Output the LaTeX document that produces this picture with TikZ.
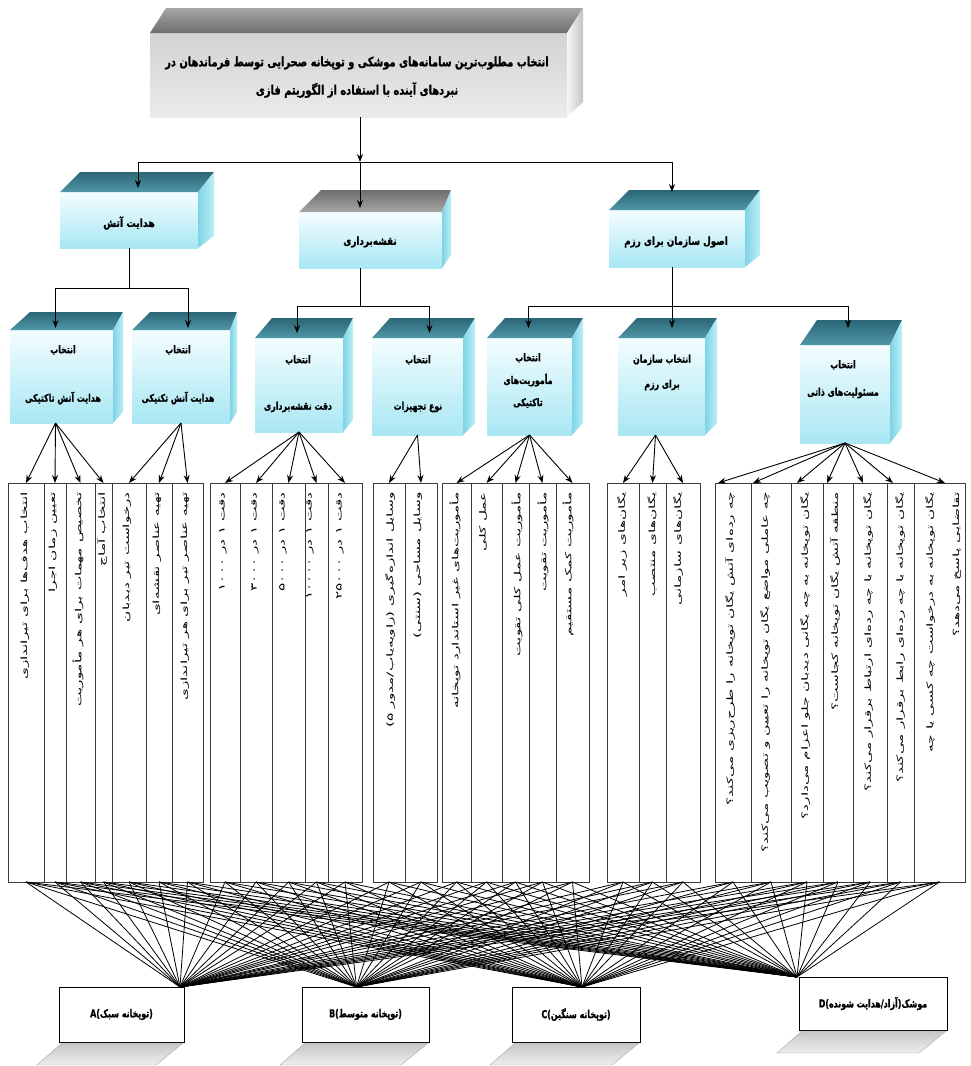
\documentclass[tikz,border=0pt]{standalone}
\usepackage{fontspec}
\usepackage{graphicx}
\TeXXeTstate=1
\newfontfamily\fa[Script=Arabic]{DejaVu Sans}
\newfontfamily\fah[Script=Arabic,FakeBold=1.2]{DejaVu Sans Bold}
\newfontfamily\lat{DejaVu Sans}
\newfontfamily\lath[FakeBold=1.2]{DejaVu Sans Bold}
\usetikzlibrary{arrows.meta,calc}
\definecolor{tealA}{HTML}{2B6676}
\definecolor{tealB}{HTML}{4F97A8}
\definecolor{cyF1}{HTML}{F4FDFF}
\definecolor{cyF2}{HTML}{A8E7F3}
\definecolor{cyS1}{HTML}{7FD3E4}
\definecolor{cyS2}{HTML}{BDEFF7}
\definecolor{grT1}{HTML}{6E6E6E}
\definecolor{grT2}{HTML}{A6A6A6}
\definecolor{grF1}{HTML}{D2D2D2}
\definecolor{grF2}{HTML}{EBEBEB}
\definecolor{grS1}{HTML}{F6F6F6}
\definecolor{grS2}{HTML}{C4C4C4}
\definecolor{colline}{HTML}{3A3A3A}
\definecolor{shd1}{HTML}{C6C6C6}
\definecolor{shd2}{HTML}{EEEEEE}
\newcommand\sq[2]{\scalebox{#1}[1]{#2}}
\tikzset{
  arr/.style={-{Stealth[length=8pt,width=6pt]}, line width=0.9pt},
  link/.style={line width=0.9pt},
  face/.style={inner sep=0pt, outer sep=0pt, draw=none},
  topT/.style={top color=grT2, bottom color=grT1},
  frontT/.style={top color=grF1, bottom color=grF2},
  sideT/.style={left color=grS1, right color=grS2},
  topC/.style={top color=tealA, bottom color=tealB},
  frontC/.style={top color=cyF1, bottom color=cyF2},
  sideC/.style={left color=cyS1, right color=cyS2},
  topM/.style={top color=grT1, bottom color=grT2},
  frontM/.style={top color=cyF1, bottom color=cyF2},
  sideM/.style={left color=cyS1, right color=cyS2},
  ttl/.style={font=\fah\fontsize{13}{15}\selectfont, inner sep=0pt},
  lvtwo/.style={font=\fah\fontsize{11}{13}\selectfont, inner sep=0pt},
  lvthree/.style={font=\fah\fontsize{10.5}{12}\selectfont, inner sep=0pt},
  colbox/.style={draw=colline, line width=0.9pt, fill=white, minimum height=399pt, inner sep=0pt, outer sep=0pt},
  coltxt/.style={rotate=90, anchor=east, inner sep=0pt, font=\fa\fontsize{8.5}{9}\selectfont},
  bot/.style={draw=black, line width=1pt, fill=white, inner sep=0pt, outer sep=0pt},
  bottxt/.style={font=\fah\fontsize{11}{13}\selectfont, inner sep=0pt},
  shd/.style={top color=shd1, bottom color=shd2, draw=gray!70, line width=0.4pt},
  bl/.style={line width=0.8pt, black},
}
% name, x1, y1, x2, y2, dx-left, dx-right, dy, theme
\newcommand\cube[9]{%
  \node[face, front#9, minimum width={(#4-#2)*1pt}, minimum height={(#5-#3)*1pt}] (#1) at ({(#2+#4)/2},{(#3+#5)/2}) {};
  \path[top#9] (#1.north west) -- ++(#6,#8) -- ($(#1.north east)+(#7,#8)$) -- (#1.north east) -- cycle;
  \path[side#9] (#1.north east) -- ++(#7,#8) -- ($(#1.south east)+(#7,0.6*#8)$) -- (#1.south east) -- cycle;
}
\newcommand\colbox[3]{\node[colbox, minimum width={(#3-#2)*1pt}] (#1) at ({(#2+#3)/2},682.5) {};}
\newcommand\coltext[3]{\node[coltxt] (#1t) at (#2,492) {\sq{1.8}{#3}};}
\begin{document}
\begin{tikzpicture}[x=1pt,y=-1pt]
\useasboundingbox (0,0) rectangle (971,1066);
\fill[white] (0,0) rectangle (971,1066);

% ---------- title ----------
\cube{ttl}{150}{33}{567}{117}{16}{16}{-25}{T}
\node[ttl] (ttla) at (357,63) {\sq{0.76}{\beginR انتخاب مطلوب^^^^200cترین سامانه^^^^200cهای موشکی و توپخانه صحرایی توسط فرماندهان در\endR}};
\node[ttl] (ttlb) at (357,90) {\sq{0.76}{\beginR نبردهای آینده با استفاده از الگوریتم فازی\endR}};

% ---------- level 2 ----------
\cube{l2a}{60}{192}{198}{248}{20}{16}{-20}{C}
\cube{l2b}{299}{212}{442}{268}{22}{9}{-22}{M}
\cube{l2c}{609}{210}{745}{267}{20}{15}{-20}{C}
\node[lvtwo] (l2at) at (129,223) {\sq{0.85}{\beginR هدایت آتش\endR}};
\node[lvtwo] (l2bt) at (370,242) {\sq{0.8}{\beginR نقشه^^^^200cبرداری\endR}};
\node[lvtwo] (l2ct) at (676,242) {\sq{0.8}{\beginR اصول سازمان برای رزم\endR}};

% ---------- level 3 ----------
\cube{l3a}{10}{330}{113}{423}{20}{10}{-18}{C}
\cube{l3b}{132}{330}{230}{423}{18}{7}{-18}{C}
\cube{l3c}{255}{338}{343}{432}{17}{10}{-20}{C}
\cube{l3d}{372}{338}{463}{435}{18}{12}{-20}{C}
\cube{l3e}{487}{338}{572}{435}{18}{11}{-20}{C}
\cube{l3f}{618}{338}{705}{435}{19}{12}{-20}{C}
\cube{l3g}{800}{345}{890}{443}{17}{12}{-25}{C}
\node[lvthree] (l3at1) at (63,350) {\sq{0.75}{\beginR انتخاب\endR}};
\node[lvthree] (l3at2) at (63,398) {\sq{0.75}{\beginR هدایت آتش تاکتیکی\endR}};
\node[lvthree] (l3bt1) at (178,350) {\sq{0.75}{\beginR انتخاب\endR}};
\node[lvthree] (l3bt2) at (178,398) {\sq{0.75}{\beginR هدایت آتش تکنیکی\endR}};
\node[lvthree] (l3ct1) at (298,360) {\sq{0.75}{\beginR انتخاب\endR}};
\node[lvthree] (l3ct2) at (298,407) {\sq{0.75}{\beginR دقت نقشه^^^^200cبرداری\endR}};
\node[lvthree] (l3dt1) at (418,360) {\sq{0.75}{\beginR انتخاب\endR}};
\node[lvthree] (l3dt2) at (418,407) {\sq{0.75}{\beginR نوع تجهیزات\endR}};
\node[lvthree] (l3et1) at (528,358) {\sq{0.75}{\beginR انتخاب\endR}};
\node[lvthree] (l3et2) at (528,380) {\sq{0.75}{\beginR مأموریت^^^^200cهای\endR}};
\node[lvthree] (l3et3) at (528,403) {\sq{0.75}{\beginR تاکتیکی\endR}};
\node[lvthree] (l3ft1) at (662,360) {\sq{0.75}{\beginR انتخاب سازمان\endR}};
\node[lvthree] (l3ft2) at (662,385) {\sq{0.75}{\beginR برای رزم\endR}};
\node[lvthree] (l3gt1) at (843,365) {\sq{0.75}{\beginR انتخاب\endR}};
\node[lvthree] (l3gt2) at (843,393) {\sq{0.75}{\beginR مسئولیت^^^^200cهای ذاتی\endR}};

% ---------- connectors top ----------
\coordinate (j0) at (360,162);
\draw[arr] (ttl.south -| j0) -- (j0);
\draw[arr] (j0) -- ($(j0 |- l2b.north)+(0,-4)$);
\draw[arr] (j0) -| ($(l2a.north)+(9,-4)$);
\draw[arr] (j0) -| ($(l2c.north)+(-5,-18)$);

\coordinate (j1) at (l2a.south |- 0,288);
\draw[link] (l2a.south) -- (j1);
\draw[arr] (j1) -| ($(l3a.north)+(-6,-2)$);
\draw[arr] (j1) -| ($(l3b.north)+(7,-2)$);

\coordinate (s2) at ($(l2b.south)+(-10,0)$);
\coordinate (j2) at (s2 |- 0,306);
\draw[link] (s2) -- (j2);
\draw[arr] (j2) -| ($(l3c.north)+(-2,-5)$);
\draw[arr] (j2) -| ($(l3d.north)+(12,-5)$);

\coordinate (s3) at ($(l2c.south)+(-5,0)$);
\coordinate (j3) at (s3 |- 0,306);
\draw[link] (s3) -- (j3);
\draw[arr] (j3) -| ($(l3e.north)+(-1,-10)$);
\draw[arr] (j3) -- ($(j3 |- l3f.north)+(0,-10)$);
\draw[arr] (j3) -| ($(l3g.north)+(3,-17)$);

% ---------- columns ----------
\colbox{c1}{8}{44}\colbox{c2}{44}{66}\colbox{c3}{66}{95}\colbox{c4}{95}{112}
\colbox{c5}{112}{146}\colbox{c6}{146}{172}\colbox{c7}{172}{203}
\colbox{c8}{210}{240}\colbox{c9}{240}{272}\colbox{c10}{272}{305}\colbox{c11}{305}{328}\colbox{c12}{328}{362}
\colbox{c13}{373}{405}\colbox{c14}{405}{437}
\colbox{c15}{442}{471}\colbox{c16}{471}{502}\colbox{c17}{502}{529}\colbox{c18}{529}{556}\colbox{c19}{556}{589}
\colbox{c20}{607}{639}\colbox{c21}{639}{666}\colbox{c22}{666}{700}
\colbox{c23}{715}{751}\colbox{c24}{751}{791}\colbox{c25}{791}{823}\colbox{c26}{823}{853}\colbox{c27}{853}{887}\colbox{c28}{887}{914}\colbox{c29}{914}{965}

\coltext{c1}{25}{\beginR انتخاب هدف^^^^200cها برای تیراندازی\endR}
\coltext{c2}{53}{\beginR تعیین زمان اجرا\endR}
\coltext{c3}{78}{\beginR تخصیص مهمات برای هر مأموریت\endR}
\coltext{c4}{102}{\beginR انتخاب آماج\endR}
\coltext{c5}{127}{\beginR درخواست تیر دیدبان\endR}
\coltext{c6}{157}{\beginR تهیه عناصر نقشه^^^^200cای\endR}
\coltext{c7}{185}{\beginR تهیه عناصر تیر برای هر تیراندازی\endR}
\coltext{c8}{223}{\beginR دقت ۱ در ۱۰۰۰\endR}
\coltext{c9}{255}{\beginR دقت ۱ در ۳۰۰۰\endR}
\coltext{c10}{283}{\beginR دقت ۱ در ۵۰۰۰\endR}
\coltext{c11}{310}{\beginR دقت ۱ در ۱۰۰۰۰\endR}
\coltext{c12}{340}{\beginR دقت ۱ در ۲۵۰۰۰\endR}
\coltext{c13}{390}{{\lat (}\beginR مدور ۵\endR{\lat /}\beginR زاویه^^^^200cیاب\endR{\lat )} \beginR وسایل اندازه^^^^200cگیری\endR}
\coltext{c14}{418}{{\lat (}\beginR سنتی\endR{\lat )} \beginR وسایل مساحی\endR}
\coltext{c15}{455}{\beginR مأموریت^^^^200cهای غیر استاندارد توپخانه\endR}
\coltext{c16}{483}{\beginR عمل کلی\endR}
\coltext{c17}{517}{\beginR مأموریت عمل کلی تقویت\endR}
\coltext{c18}{543}{\beginR مأموریت تقویت\endR}
\coltext{c19}{568}{\beginR مأموریت کمک مستقیم\endR}
\coltext{c20}{622}{\beginR یگان^^^^200cهای زیر امر\endR}
\coltext{c21}{652}{\beginR یگان^^^^200cهای منتصب\endR}
\coltext{c22}{678}{\beginR یگان^^^^200cهای سازمانی\endR}
\coltext{c23}{730}{\beginR چه رده^^^^200cای آتش یگان توپخانه را طرح^^^^200cریزی می^^^^200cکند؟\endR}
\coltext{c24}{765}{\beginR چه عاملی مواضع یگان توپخانه را تعیین و تصویب می^^^^200cکند؟\endR}
\coltext{c25}{805}{\beginR یگان توپخانه به چه یگانی دیدبان جلو اعزام می^^^^200cدارد؟\endR}
\coltext{c26}{835}{\beginR منطقه آتش یگان توپخانه کجاست؟\endR}
\coltext{c27}{868}{\beginR یگان توپخانه با چه رده^^^^200cای ارتباط برقرار می^^^^200cکند؟\endR}
\coltext{c28}{900}{\beginR یگان توپخانه با چه رده^^^^200cای رابط برقرار می^^^^200cکند؟\endR}
\coltext{c29}{930}{\beginR یگان توپخانه به درخواست چه کسی یا چه\endR}
\coltext{c29b}{957}{\beginR تقاضایی پاسخ می^^^^200cدهد؟\endR}

% ---------- fan arrows into columns ----------
\foreach \c in {c1,c2,c3,c4} \draw[arr] ($(l3a.south)+(-6,0)$) -- (\c.north);
\foreach \c in {c5,c6,c7} \draw[arr] (l3b.south) -- (\c.north);
\foreach \c in {c8,c9,c10,c11,c12} \draw[arr] (l3c.south) -- (\c.north);
\foreach \c in {c13,c14} \draw[arr] (l3d.south) -- (\c.north);
\foreach \c in {c15,c16,c17,c18,c19} \draw[arr] (l3e.south) -- (\c.north);
\foreach \c in {c20,c21,c22} \draw[arr] ($(l3f.south)+(-6,0)$) -- (\c.north);
\foreach \c/\o in {c23/3,c24/2,c25/6,c26/4,c27/10,c28/6,c29/31} \draw[arr] (l3g.south) -- ($(\c.north west)+(\o,0)$);

% ---------- bottom boxes ----------
\node[bot, minimum width=125pt, minimum height=55pt] (bA) at (121.5,1014.5) {};
\node[bot, minimum width=127pt, minimum height=55pt] (bB) at (365.5,1014.5) {};
\node[bot, minimum width=128pt, minimum height=55pt] (bC) at (576,1014.5) {};
\node[bot, minimum width=148pt, minimum height=53pt] (bD) at (873,1003.5) {};
\node[bottxt] (bAt) at (bA) {\sq{0.72}{{\lath A(}\beginR توپخانه سبک\endR{\lath )}}};
\node[bottxt] (bBt) at (bB) {\sq{0.72}{{\lath B(}\beginR توپخانه متوسط\endR{\lath )}}};
\node[bottxt] (bCt) at (bC) {\sq{0.72}{{\lath C(}\beginR توپخانه سنگین\endR{\lath )}}};
\node[bottxt] (bDt) at (bD) {\sq{0.72}{{\lath D(}\beginR هدایت شونده\endR{\lath /}\beginR آزاد\endR{\lath )}\beginR موشک\endR}};
\foreach \b in {bA,bB,bC,bD}
  \path[shd] ($(\b.south west)+(3,1)$) -- ($(\b.south east)+(-1,1)$) -- ++(-27,22) -- ($(\b.south west)+(-22,23)$) -- cycle;

\coordinate (pA) at ($(bA.north east)+(-4,0)$);
\coordinate (pB) at ($(bB.north)+(-9,0)$);
\coordinate (pC) at ($(bC.north)+(6,0)$);
\coordinate (pD) at ($(bD.north west)+(-2,0)$);
\foreach \c in {c1,c2,c3,c4,c5,c6,c7,c8,c9,c10,c11,c12,c13,c14,c15,c16,c17,c18,c19,c20,c21,c22,c23,c24,c25,c26,c27,c28,c29}
  \foreach \p in {pA,pB,pC,pD}
    \draw[bl] (\c.south) -- (\p);
\end{tikzpicture}
\end{document}
